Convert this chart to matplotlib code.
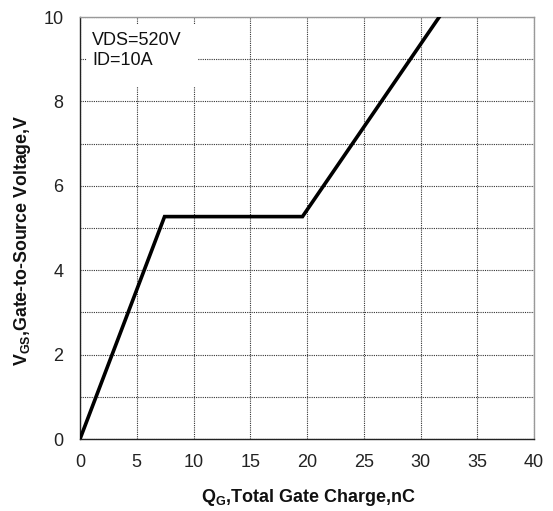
import matplotlib
matplotlib.use("Agg")
import matplotlib.pyplot as plt
from matplotlib.patches import Rectangle

qg = [0.0, 7.45, 19.6, 31.65]
vgs = [0.0, 5.27, 5.27, 10.0]
x_ticks = [0, 5, 10, 15, 20, 25, 30, 35, 40]
y_ticks = [0, 2, 4, 6, 8, 10]
y_grid = [0, 1, 2, 3, 4, 5, 6, 7, 8, 9, 10]

plt.rcParams['font.family'] = ['Liberation Sans', 'DejaVu Sans']
plt.rcParams['mathtext.fontset'] = 'custom'
plt.rcParams['mathtext.rm'] = 'Liberation Sans:bold'
plt.rcParams['mathtext.bf'] = 'Liberation Sans:bold'

W, H = 553, 511
fig = plt.figure(figsize=(W / 100, H / 100), dpi=100)
ax = fig.add_axes([80 / W, 72 / H, 454 / W, 422 / H])
ax.set_xlim(0, 40)
ax.set_ylim(0, 10)

for x in x_ticks:
    ax.axvline(x, color='#333333', lw=0.8, ls=(0, (1, 1)), zorder=1)
for y in y_grid:
    ax.axhline(y, color='#333333', lw=0.8, ls=(0, (1, 1)), zorder=1)

# white background behind the annotation
ax.add_patch(Rectangle((0.6, 8.34), 9.8, 1.5, facecolor='white', edgecolor='none', zorder=1.5))

ax.plot(qg, vgs, color='black', lw=2.6, zorder=3, solid_joinstyle='miter')

ax.text(1.05, 9.2, 'VDS=520V\nID=10A', fontsize=13, ha='left', va='center',
        linespacing=1.2, zorder=2, color='#111111')

ax.set_xticks(x_ticks)
ax.set_yticks(y_ticks)
ax.tick_params(axis='x', length=0, labelsize=13, pad=11, colors='#222222')
ax.tick_params(axis='y', length=0, labelsize=13, pad=12, colors='#222222')
for s in ['left', 'bottom']:
    ax.spines[s].set_color('#222222')
    ax.spines[s].set_linewidth(1.0)
for s in ['top', 'right']:
    ax.spines[s].set_color('#999999')
    ax.spines[s].set_linewidth(1.0)

fig.text(309 / W, 1 - 497 / H, r'Q$_{\mathrm{G}}$,Total Gate Charge,nC', fontsize=13,
         fontweight='bold', ha='center', va='center', color='#111111')
fig.text(23 / W, 1 - 240 / H, r'V$_{\mathrm{GS}}$,Gate-to-Source Voltage,V', fontsize=12.8,
         fontweight='bold', ha='center', va='center', rotation=90, color='#111111')

fig.savefig('out.png', dpi=100)
